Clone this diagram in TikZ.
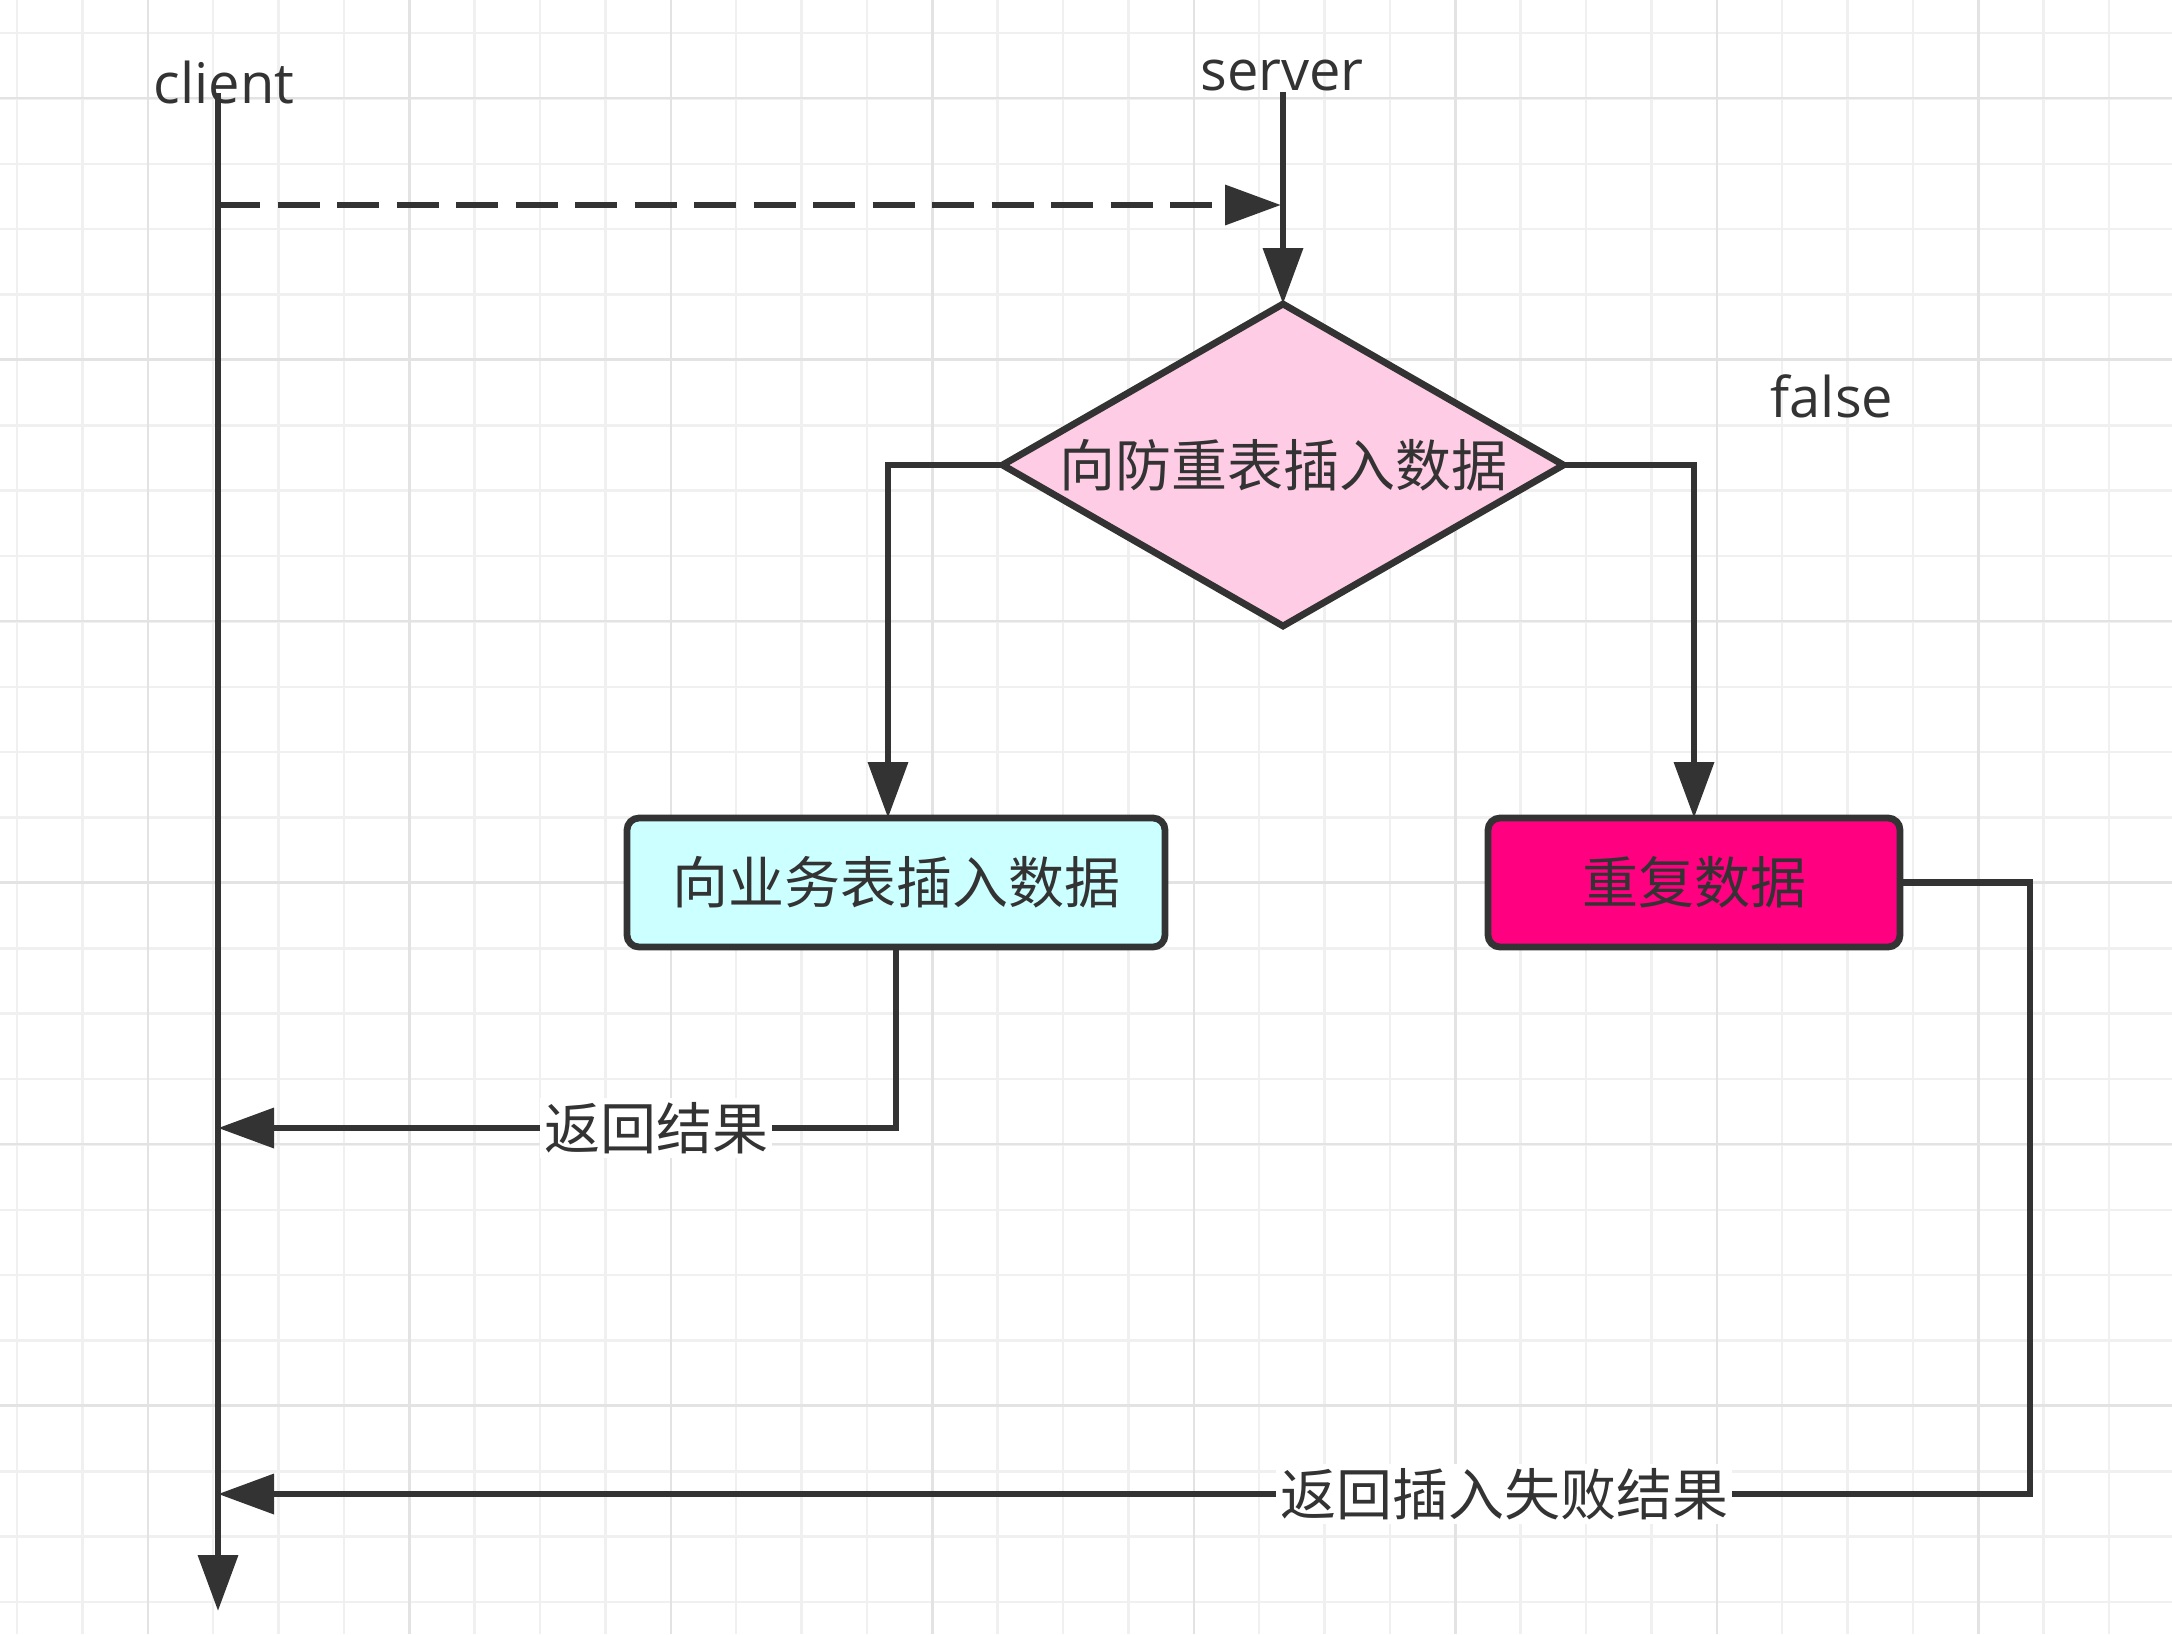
\documentclass[tikz,border=0pt]{standalone}
\usepackage{fontspec}
\setmainfont{Noto Sans CJK SC}
\newfontfamily\latinfont{Open Sans}
\usetikzlibrary{arrows.meta,shapes.geometric}

\definecolor{ink}{HTML}{333333}
\definecolor{gridminor}{HTML}{F0F0F0}
\definecolor{gridmajor}{HTML}{E3E3E3}
\definecolor{decisionpink}{HTML}{FFCCE6}
\definecolor{insertcyan}{HTML}{CCFFFF}
\definecolor{duplicatepink}{HTML}{FF0080}

\begin{document}
\begin{tikzpicture}[x=0.5pt,y=-0.5pt,
  every node/.style={text=ink, font={\fontsize{28pt}{34pt}\selectfont}},
  latinlbl/.style={font={\latinfont\fontsize{28pt}{34pt}\selectfont}, inner sep=0pt, anchor=base},
  conn/.style={draw=ink, line width=3.4pt, line join=miter},
  arr/.style={conn, -{Triangle[length=28pt,width=19.5pt]}},
  flowbox/.style={draw=ink, line width=3.4pt, rounded corners=6pt,
    minimum width=269pt, minimum height=64.5pt, inner sep=0pt, outer sep=0pt},
  decision/.style={diamond, draw=ink, line width=3.4pt, fill=decisionpink,
    minimum width=280.5pt, minimum height=161pt, inner sep=0pt, outer sep=0pt},
  edgelbl/.style={fill=white, inner sep=2pt},
  minorline/.style={draw=gridminor, line width=1.25pt},
  majorline/.style={draw=gridmajor, line width=1.25pt},
]
% canvas
\useasboundingbox (0,0) rectangle (2172,1634);
\fill[white] (0,0) rectangle (2172,1634);

% background grid
\foreach \i in {0,...,32} \draw[minorline] ({17+65.375*\i},0) -- ({17+65.375*\i},1634);
\foreach \j in {0,...,24} \draw[minorline] (0,{33+65.375*\j}) -- (2172,{33+65.375*\j});
\foreach \i in {0,...,7} \draw[majorline] ({148+261.5*\i},0) -- ({148+261.5*\i},1634);
\foreach \j in {0,...,5} \draw[majorline] (0,{98+261.5*\j}) -- (2172,{98+261.5*\j});

% lifeline labels
\node[latinlbl] (clientlbl) at (224,103) {client};
\node[latinlbl] (serverlbl) at (1282,90) {server};
\node[latinlbl] (falselbl) at (1832,417) {false};

% lifeline anchors
\coordinate (clienttop) at (218,93);
\coordinate (clientend) at (218,1611);
\coordinate (clientreq) at (218,205);
\coordinate (clientok) at (218,1128);
\coordinate (clientfail) at (218,1494);
\coordinate (servertop) at (1283,92);
\coordinate (serverreq) at (1281,205);

% shapes
\node[decision] (check) at (1283,465) {\makebox[0pt]{向防重表插入数据}};
\node[flowbox, fill=insertcyan] (insert) at (896,882.5) {向业务表插入数据};
\node[flowbox, fill=duplicatepink, minimum width=206pt] (dup) at (1694,882.5) {重复数据};

\coordinate (leftturn) at (888,465);
\coordinate (rightturn) at (1694,465);
\coordinate (failturn) at (2030,882.5);

% client lifeline and request
\draw[arr] (clienttop) -- (clientend);
\draw[arr, dash pattern=on 21pt off 8.75pt] (clientreq) -- (serverreq);

% server flow
\draw[arr] (servertop) -- (check.north);
\draw[arr] (check.west) -- (leftturn) -- (leftturn |- insert.north);
\draw[arr] (check.east) -- (rightturn) -- (dup.north);

% replies to the client
\draw[arr] (insert.south) |- (clientok);
\node[edgelbl] (oklbl) at (656,1128) {返回结果};
\draw[arr] (dup.east) -- (failturn) |- (clientfail);
\node[edgelbl] (faillbl) at (1504,1494) {返回插入失败结果};
\end{tikzpicture}
\end{document}
